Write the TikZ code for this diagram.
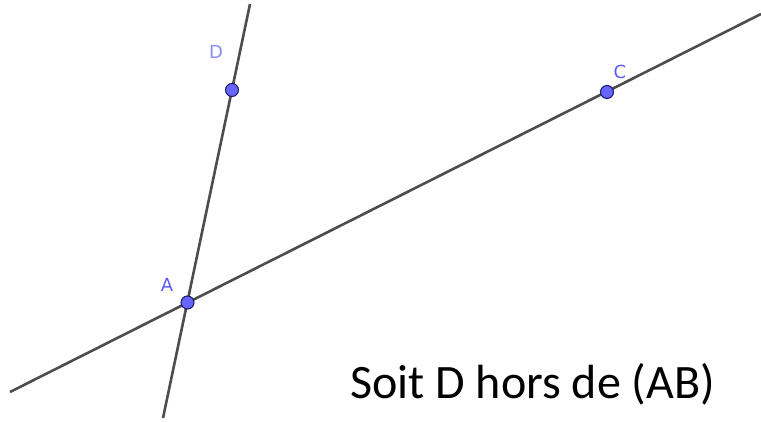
\documentclass[tikz,border=0pt]{standalone}
\usepackage{fontspec}
\newfontfamily\calib{Carlito}
\newfontfamily\ggb{DejaVu Sans}
\definecolor{linegray}{RGB}{77,77,77}
\definecolor{ptfill}{RGB}{102,102,255}
\definecolor{ptdraw}{RGB}{26,26,100}
\definecolor{lblblue}{RGB}{90,90,255}
\definecolor{lblblueD}{RGB}{140,140,255}
\tikzset{
  geoline/.style={draw=linegray, line width=2.6pt},
  geopt/.style={circle, fill=ptfill, draw=ptdraw, line width=1pt, minimum size=13pt, inner sep=0pt},
  geolbl/.style={font=\ggb\fontsize{18}{18}\selectfont, inner sep=0pt}
}
\begin{document}
\begin{tikzpicture}[x=1pt,y=-1pt]
\useasboundingbox (0,0) rectangle (761,422);
\coordinate (L1a) at (10,392);
\coordinate (L1b) at (761,14);
\coordinate (L2a) at (163,418);
\coordinate (L2b) at (250,4);
\draw[geoline] (L1a) -- (L1b);
\draw[geoline] (L2a) -- (L2b);
\node[geopt] (A) at (187.5,302.5) {};
\node[geopt] (D) at (232,90) {};
\node[geopt] (C) at (607,92) {};
\node[geolbl, text=lblblue] (lA) at (167,285) {A};
\node[geolbl, text=lblblueD] (lD) at (216,51.5) {D};
\node[geolbl, text=lblblue] (lC) at (620,71.5) {C};
\node[anchor=base west, inner sep=0pt, font=\calib\fontsize{48}{48}\selectfont] (txt) at (350,398) {Soit D hors de (AB)};
\end{tikzpicture}
\end{document}
